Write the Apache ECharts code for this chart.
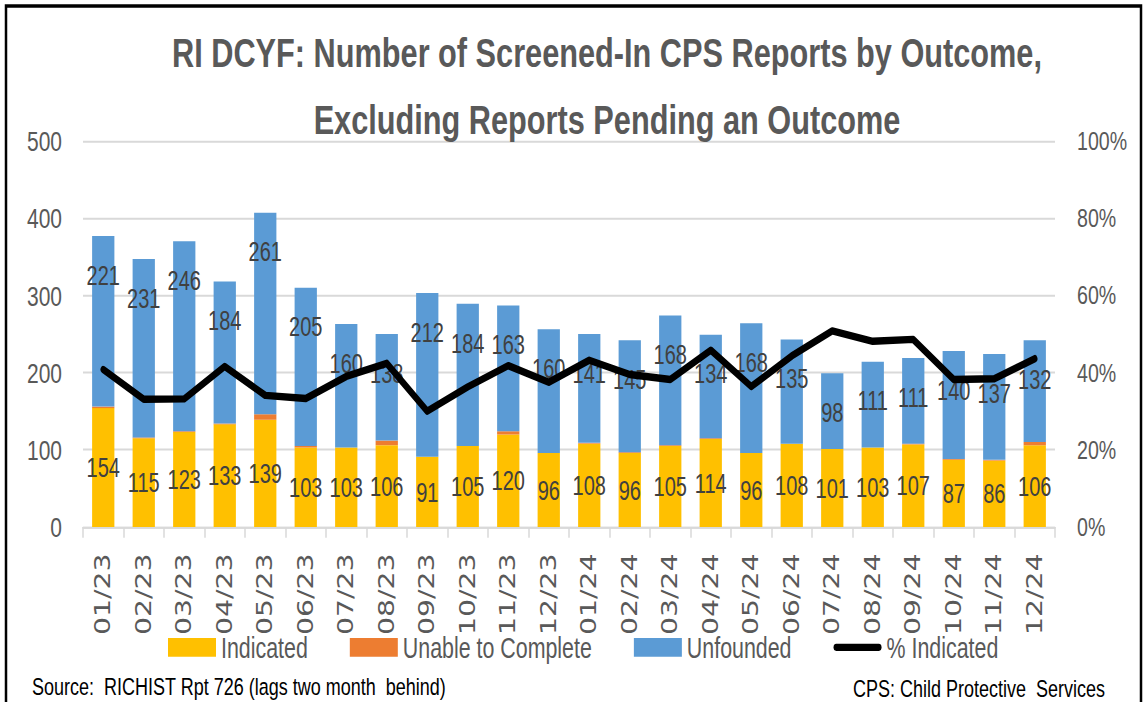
<!DOCTYPE html>
<html>
<head>
<meta charset="utf-8">
<script src="https://cdn.jsdelivr.net/npm/echarts@6/dist/echarts.min.js"></script>
<style>
html,body{margin:0;padding:0;background:#fff;overflow:hidden;width:1144px;height:702px;}
#chart{width:1144px;height:520px;transform:scaleY(1.35);transform-origin:0 0;}
</style>
</head>
<body>
<div id="chart"></div>
<script>
const categories = ['01/23','02/23','03/23','04/23','05/23','06/23','07/23','08/23','09/23','10/23','11/23','12/23',
                    '01/24','02/24','03/24','04/24','05/24','06/24','07/24','08/24','09/24','10/24','11/24','12/24'];
const indicated = [154,115,123,133,139,103,103,106,91,105,120,96,108,96,105,114,96,108,101,103,107,87,86,106];
const unableToComplete = [2,1,1,1,7,2,0,6,0,0,4,0,1,1,1,1,0,0,0,0,1,1,1,4];
const unfounded = [221,231,246,184,261,205,160,138,212,184,163,160,141,145,168,134,168,135,98,111,111,140,137,132];
const pctIndicated = [40.8,33.1,33.2,41.6,34.1,33.3,39.0,42.4,30.0,36.3,41.8,37.5,43.2,39.5,38.2,45.8,36.4,44.3,50.8,48.1,48.6,38.2,38.4,43.6];
const leftTicks = [0,500,100];
const rightTicks = [0,100,20];

const SANS = "'Liberation Sans',Arial,sans-serif";
const chart = echarts.init(document.getElementById('chart'), null, {renderer:'svg'});
const option = {
  animation:false,
  backgroundColor:'#ffffff',
  title:{
    text:'RI DCYF: Number of Screened-In CPS Reports by Outcome,\nExcluding Reports Pending an Outcome',
    left:602, textAlign:'center', top:9,
    textStyle:{fontFamily:SANS, fontWeight:'bold', fontSize:30.7, lineHeight:49.6, color:'#595959'}
  },
  legend:{
    left:163, top:464, itemWidth:48, itemHeight:14, itemGap:42,
    textStyle:{fontFamily:SANS, fontSize:21.4, color:'#595959'},
    data:[
      {name:'Indicated', icon:'rect'},
      {name:'Unable to Complete', icon:'rect'},
      {name:'Unfounded', icon:'rect'},
      {name:'% Indicated', icon:'path://M3,0 L51,0 A3,3 0 0 1 51,6 L3,6 A3,3 0 0 1 3,0 Z', itemStyle:{color:'#000'}}
    ]
  },
  grid:{left:83, right:89, top:104.4, bottom:129.6, containLabel:false},
  xAxis:{
    type:'category', data:categories, boundaryGap:true,
    axisLine:{lineStyle:{color:'#D9D9D9', width:1.5}},
    axisTick:{show:true, length:8, lineStyle:{color:'#D9D9D9', width:1.5}},
    axisLabel:{rotate:90, margin:19.5, fontFamily:'DejaVu Sans', fontSize:21, color:'#595959'}
  },
  yAxis:[
    {type:'value', min:leftTicks[0], max:leftTicks[1], interval:leftTicks[2],
     axisLine:{show:false}, axisTick:{show:false},
     splitLine:{lineStyle:{color:'#D9D9D9', width:1.5}},
     axisLabel:{margin:21, fontFamily:SANS, fontSize:21, color:'#595959'}},
    {type:'value', min:rightTicks[0], max:rightTicks[1], interval:rightTicks[2],
     axisLine:{show:false}, axisTick:{show:false}, splitLine:{show:false},
     axisLabel:{margin:22, fontFamily:SANS, fontSize:19.6, color:'#595959', formatter:'{value}%'}}
  ],
  series:[
    {name:'Indicated', type:'bar', stack:'a', data:indicated, barCategoryGap:'45%',
     itemStyle:{color:'#FFC000'},
     label:{show:true, position:'inside', fontFamily:SANS, fontSize:20, color:'#404040'}},
    {name:'Unable to Complete', type:'bar', stack:'a', data:unableToComplete,
     itemStyle:{color:'#ED7D31'}},
    {name:'Unfounded', type:'bar', stack:'a', data:unfounded,
     itemStyle:{color:'#5B9BD5'},
     label:{show:true, position:['50%',28.9], align:'center', verticalAlign:'middle',
            fontFamily:SANS, fontSize:20, color:'#404040'}},
    {name:'% Indicated', type:'line', yAxisIndex:1, data:pctIndicated,
     symbol:'none', showSymbol:false, z:10,
     lineStyle:{color:'#000000', width:5.5, cap:'round', join:'round'},
     itemStyle:{color:'#000000'}}
  ],
  graphic:[
    {type:'rect', shape:{x:6, y:4.4, width:1135, height:700}, style:{fill:null, stroke:'#000', lineWidth:2.5}, silent:true, z:100},
    {type:'text', x:32, y:508.8, style:{text:'Source:  RICHIST Rpt 726 (lags two month  behind)', font:"18px "+SANS, fill:'#000', verticalAlign:'middle'}},
    {type:'text', x:1105, y:510.5, style:{text:'CPS: Child Protective  Services', font:"18px "+SANS, fill:'#000', align:'right', verticalAlign:'middle'}}
  ]
};
chart.setOption(option);
</script>
</body>
</html>
